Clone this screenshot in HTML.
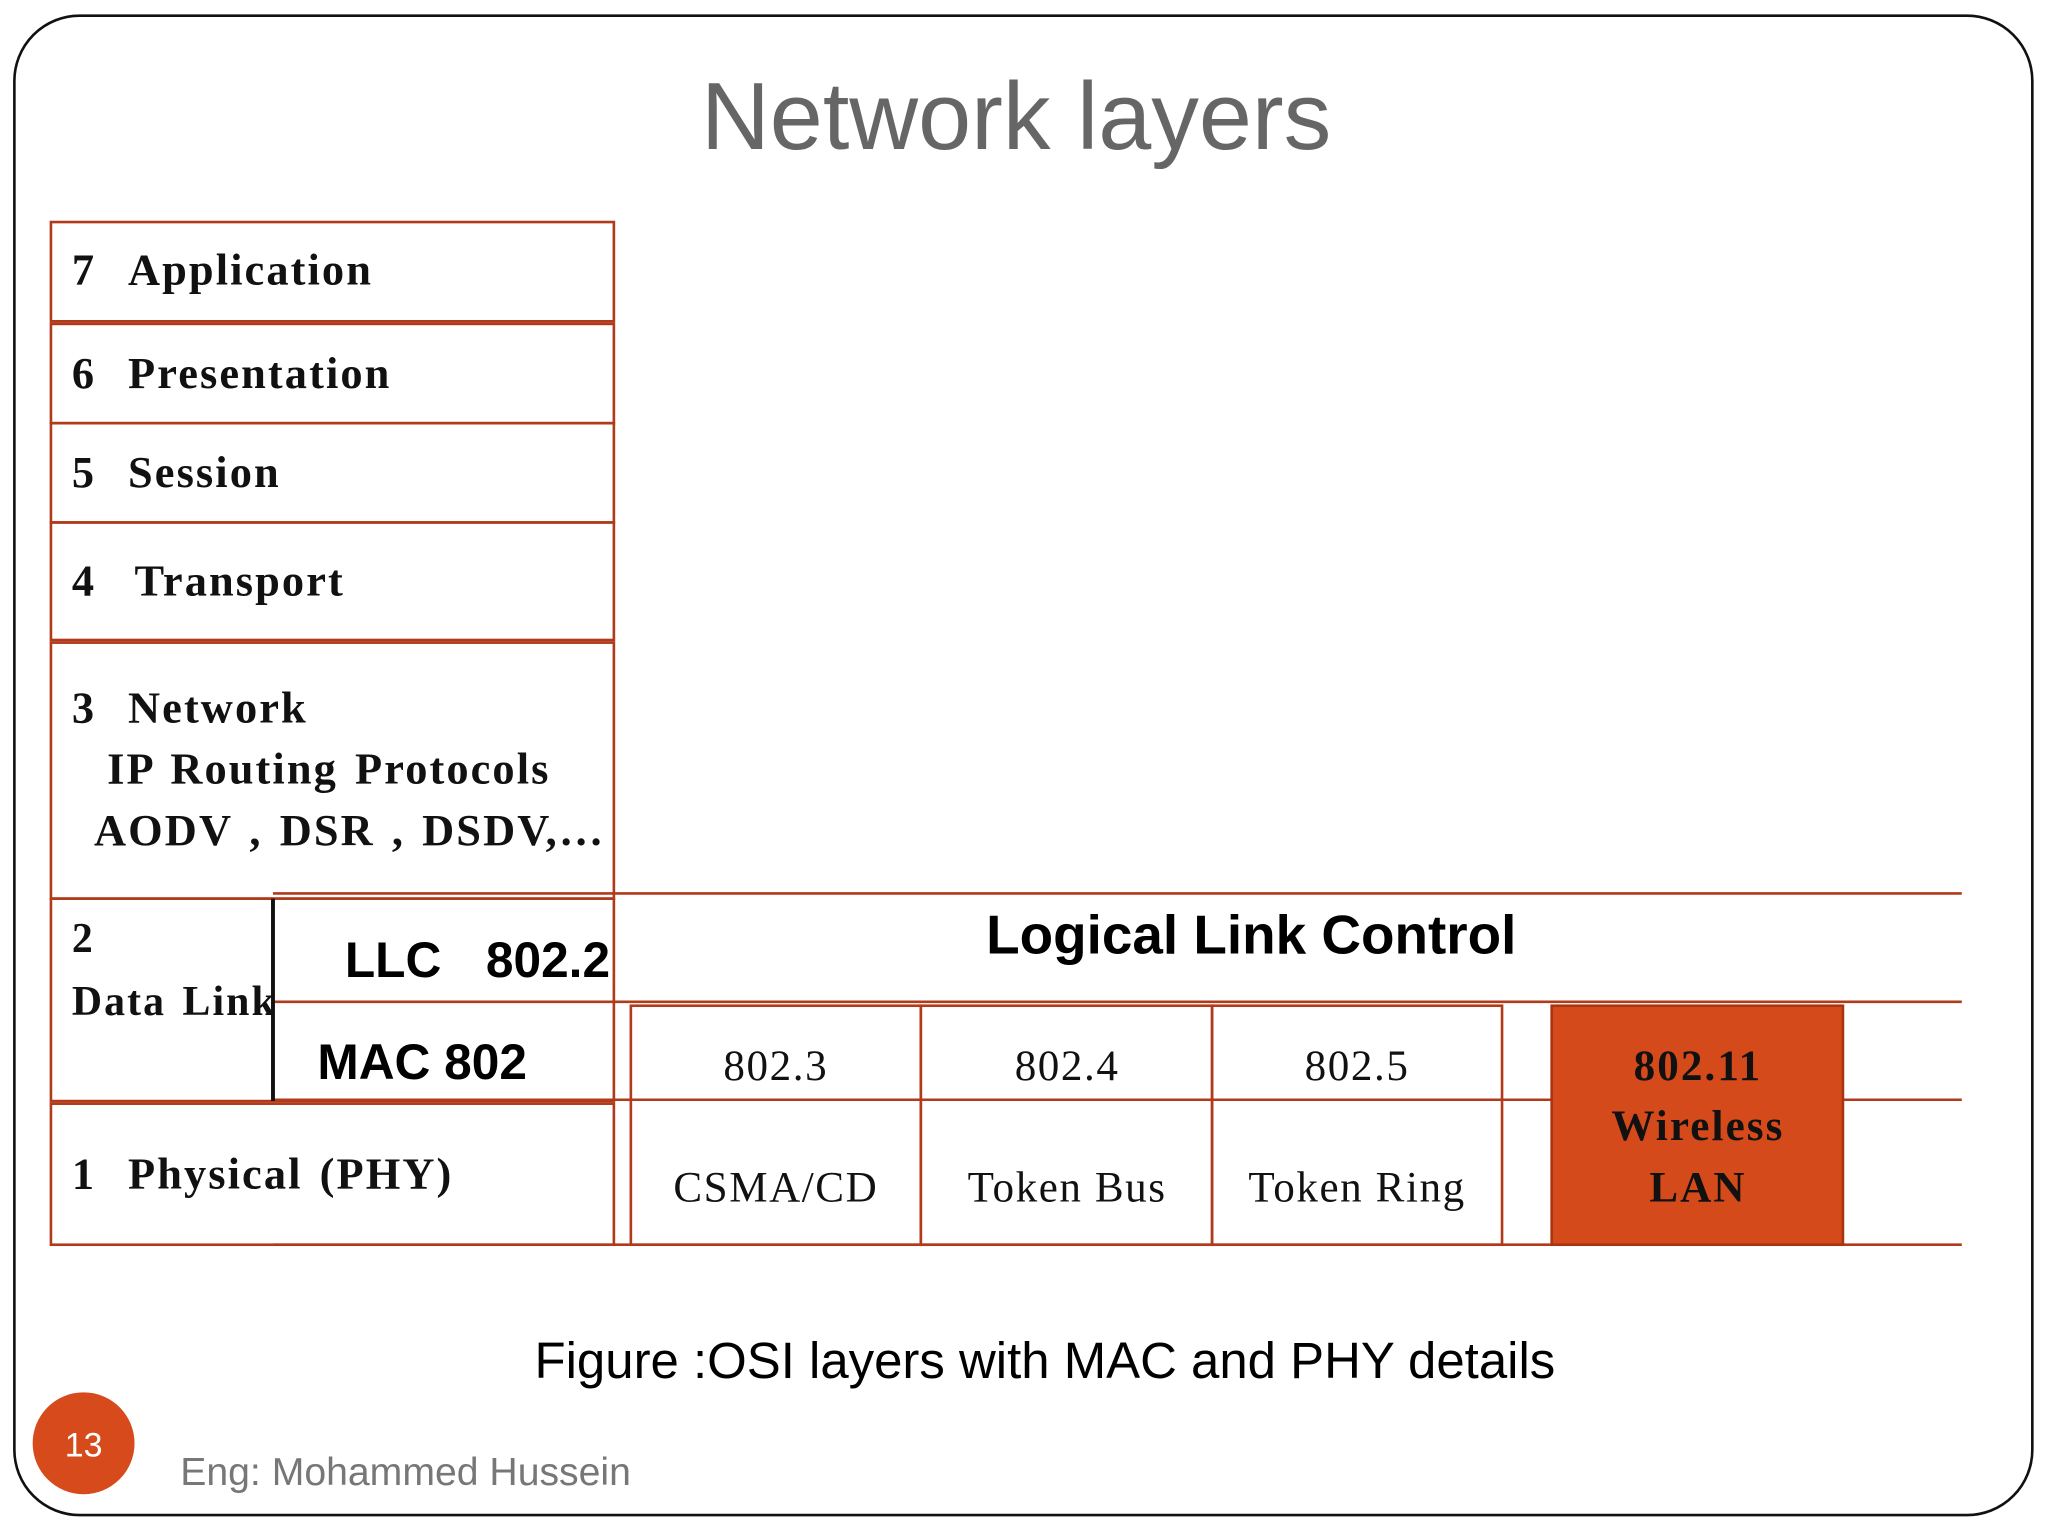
<!DOCTYPE html>
<html><head><meta charset="utf-8">
<style>
html,body{margin:0;padding:0;background:#fff;}
svg{display:block;}
.s{font-family:"Liberation Serif",serif;font-weight:bold;fill:#111;letter-spacing:1.6px;word-spacing:3px;}
.n{font-family:"Liberation Serif",serif;fill:#111;letter-spacing:1.2px;}
.a{font-family:"Liberation Sans",sans-serif;}
</style></head><body>
<svg width="2048" height="1536" viewBox="0 0 1568 1176" xmlns="http://www.w3.org/2000/svg">
<rect width="1568" height="1176" fill="#fff"/>
<rect x="11" y="12" width="1545" height="1148" rx="50" ry="50" fill="none" stroke="#111" stroke-width="2"/>
<text x="778" y="114" text-anchor="middle" class="a" font-size="73" fill="#666">Network layers</text>
<g fill="none" stroke="#b03a1a" stroke-width="2">
<rect x="39" y="170" width="431" height="76"/>
<rect x="39" y="248" width="431" height="76"/>
<rect x="39" y="324" width="431" height="76"/>
<rect x="39" y="400" width="431" height="90"/>
<rect x="39" y="492" width="431" height="196"/>
<rect x="39" y="688" width="431" height="155"/>
<rect x="39" y="845" width="431" height="108"/>
<line x1="209" y1="684" x2="1502" y2="684"/>
<line x1="209" y1="767" x2="1502" y2="767"/>
<line x1="209" y1="842" x2="1502" y2="842"/>
<line x1="209" y1="953" x2="1502" y2="953"/>
<rect x="483" y="770" width="222" height="183"/>
<rect x="705" y="770" width="223" height="183"/>
<rect x="928" y="770" width="222" height="183"/>
</g>
<line x1="209" y1="688" x2="209" y2="843" stroke="#111" stroke-width="3"/>
<rect x="1188" y="770" width="223" height="183" fill="#d44a1a" stroke="#a83512" stroke-width="2"/>
<g font-size="34">
<text x="55" y="218" class="s">7</text><text x="98" y="218" class="s">Application</text>
<text x="55" y="297" class="s">6</text><text x="98" y="297" class="s">Presentation</text>
<text x="55" y="373" class="s">5</text><text x="98" y="373" class="s">Session</text>
<text x="55" y="456" class="s">4</text><text x="103" y="456" class="s">Transport</text>
<text x="55" y="553" class="s">3</text><text x="98" y="553" class="s">Network</text>
<text x="82" y="600" class="s">IP Routing Protocols</text>
<text x="72" y="647" class="s">AODV , DSR , DSDV,…</text>
<text x="55" y="729" class="s" font-size="32">2</text>
<text x="55" y="777" class="s" font-size="32">Data Link</text>
<text x="55" y="910" class="s">1</text><text x="98" y="910" class="s">Physical (PHY)</text>
</g>
<text x="264" y="748" class="a" font-size="38" font-weight="bold" fill="#000">LLC</text>
<text x="372" y="748" class="a" font-size="38" font-weight="bold" fill="#000">802.2</text>
<text x="243" y="826" class="a" font-size="38" font-weight="bold" fill="#000">MAC 802</text>
<text x="958" y="730" text-anchor="middle" class="a" font-size="42" font-weight="bold" fill="#000">Logical Link Control</text>
<g font-size="33" text-anchor="middle">
<text x="594" y="827" class="n">802.3</text>
<text x="817" y="827" class="n">802.4</text>
<text x="1039" y="827" class="n">802.5</text>
<text x="594" y="920" class="n">CSMA/CD</text>
<text x="817" y="920" class="n">Token Bus</text>
<text x="1039" y="920" class="n">Token Ring</text>
<text x="1300" y="827" class="s">802.11</text>
<text x="1300" y="873" class="s">Wireless</text>
<text x="1300" y="920" class="s">LAN</text>
</g>
<text x="800" y="1055" text-anchor="middle" class="a" font-size="39" fill="#000">Figure :OSI layers with MAC and PHY details</text>
<circle cx="64" cy="1105" r="39" fill="#d64a1c"/>
<text x="64" y="1115" text-anchor="middle" class="a" font-size="26" fill="#fff">13</text>
<text x="138" y="1137" class="a" font-size="30" fill="#777">Eng: Mohammed Hussein</text>
</svg>
</body></html>
